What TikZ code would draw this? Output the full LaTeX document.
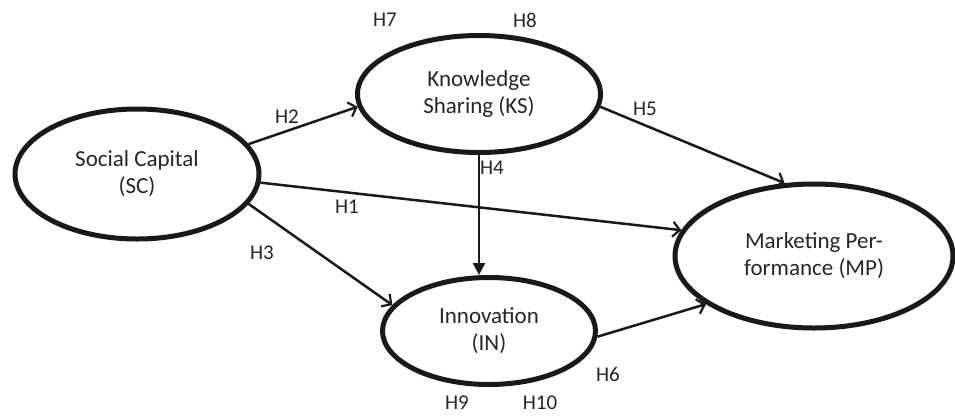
\documentclass[tikz,border=0pt]{standalone}
\usepackage{fontspec}
\setmainfont{Carlito}
\usetikzlibrary{shapes.geometric,arrows.meta}
\begin{document}
\begin{tikzpicture}[x=1pt,y=-1pt,
  construct/.style={ellipse,draw=black!90,line width=5pt,inner sep=0pt,align=center,
    font=\fontsize{23}{27}\selectfont,text=black!85},
  link/.style={draw=black!90,line width=2.5pt,-{Straight Barb[length=7pt,width=15pt,line width=2.2pt]}},
  linkf/.style={draw=black!90,line width=2.5pt,-{Triangle[length=12pt,width=12pt]}},
  hlab/.style={font=\fontsize{21}{22}\selectfont,text=black!85,inner sep=0pt}]
\useasboundingbox (0,0) rectangle (955,418);
\node[construct,minimum width=244pt,minimum height=130pt] (sc) at (137,174) {Social Capital\\(SC)};
\node[construct,minimum width=243pt,minimum height=117pt] (ks) at (479,94) {Knowledge\\Sharing (KS)};
\node[construct,minimum width=213pt,minimum height=107pt] (in) at (489,331) {Innovation\\(IN)};
\node[construct,minimum width=278pt,minimum height=144pt] (mp) at (814,256) {Marketing Per-\\formance (MP)};
\draw[link] (sc.15) -- (ks.186);
\draw[link] (sc.-4) -- (mp.169);
\draw[link] (sc.-15) -- (in.165);
\draw[linkf] (ks.south) -- (ks.south |- in.north);
\draw[link] (ks.-6) -- (mp.112);
\draw[link] (in.-3) -- (mp.204);
\node[hlab] (h1) at (347,207) {H1};
\node[hlab] (h2) at (287,117) {H2};
\node[hlab] (h3) at (262,253) {H3};
\node[hlab] (h4) at (492,168) {H4};
\node[hlab] (h5) at (645,109) {H5};
\node[hlab] (h6) at (608,374) {H6};
\node[hlab] (h7) at (385,20) {H7};
\node[hlab] (h8) at (525,20) {H8};
\node[hlab] (h9) at (457,403) {H9};
\node[hlab] (h10) at (540,403) {H10};
\end{tikzpicture}
\end{document}
